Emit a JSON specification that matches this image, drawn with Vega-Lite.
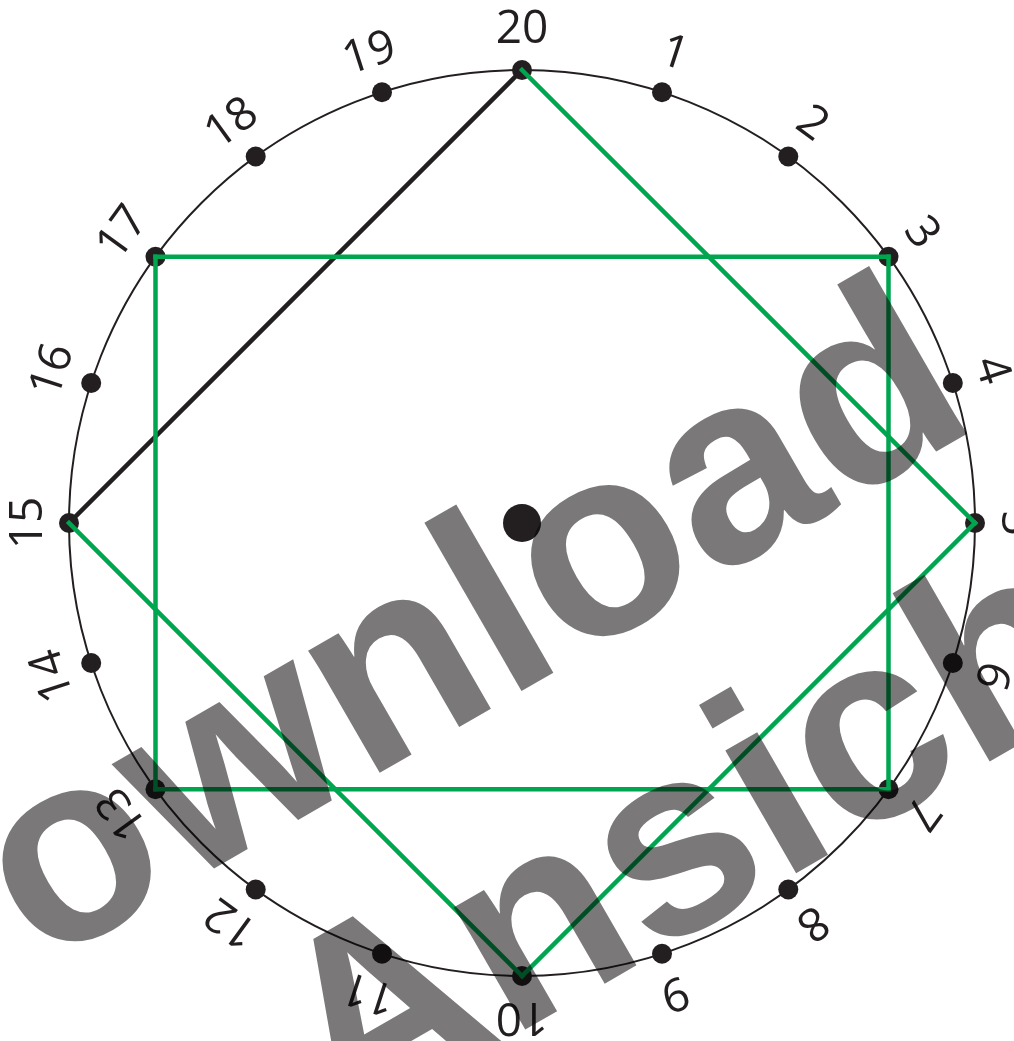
{
  "$schema": "https://vega.github.io/schema/vega-lite/v6.json",
  "width": 1014,
  "height": 1041,
  "autosize": {"type": "none"},
  "padding": 0,
  "background": "white",
  "config": {"view": {"stroke": null}},
  "datasets": {
    "ring": [{"x": 0, "y": 0}],
    "centre": [{"x": 0, "y": 0}],
    "pts": [
      {"n": 1, "x": 140.0, "y": 430.8},
      {"n": 2, "x": 266.3, "y": 366.5},
      {"n": 3, "x": 366.5, "y": 266.3},
      {"n": 4, "x": 430.8, "y": 140.0},
      {"n": 5, "x": 453, "y": 0},
      {"n": 6, "x": 430.8, "y": -140.0},
      {"n": 7, "x": 366.5, "y": -266.3},
      {"n": 8, "x": 266.3, "y": -366.5},
      {"n": 9, "x": 140.0, "y": -430.8},
      {"n": 10, "x": 0, "y": -453},
      {"n": 11, "x": -140.0, "y": -430.8},
      {"n": 12, "x": -266.3, "y": -366.5},
      {"n": 13, "x": -366.5, "y": -266.3},
      {"n": 14, "x": -430.8, "y": -140.0},
      {"n": 15, "x": -453, "y": 0},
      {"n": 16, "x": -430.8, "y": 140.0},
      {"n": 17, "x": -366.5, "y": 266.3},
      {"n": 18, "x": -266.3, "y": 366.5},
      {"n": 19, "x": -140.0, "y": 430.8},
      {"n": 20, "x": 0, "y": 453}
    ],
    "segs": [
      {"seg": "15-20", "col": "black", "x": -453, "y": 0, "x2": 0, "y2": 453},
      {"seg": "20-5", "col": "green", "x": 0, "y": 453, "x2": 453, "y2": 0},
      {"seg": "5-10", "col": "green", "x": 453, "y": 0, "x2": 0, "y2": -453},
      {"seg": "10-15", "col": "green", "x": 0, "y": -453, "x2": -453, "y2": 0},
      {"seg": "17-3", "col": "green", "x": -366.5, "y": 266.3, "x2": 366.5, "y2": 266.3},
      {"seg": "3-7", "col": "green", "x": 366.5, "y": 266.3, "x2": 366.5, "y2": -266.3},
      {"seg": "7-13", "col": "green", "x": 366.5, "y": -266.3, "x2": -366.5, "y2": -266.3},
      {"seg": "13-17", "col": "green", "x": -366.5, "y": -266.3, "x2": -366.5, "y2": 266.3}
    ],
    "labels": [
      {"label": "1", "x": 152.7, "y": 469.8, "angle": 18},
      {"label": "2", "x": 290.4, "y": 399.7, "angle": 36},
      {"label": "3", "x": 399.7, "y": 290.4, "angle": 54},
      {"label": "4", "x": 469.8, "y": 152.7, "angle": 72},
      {"label": "5", "x": 494, "y": 0, "angle": 90},
      {"label": "6", "x": 469.8, "y": -152.7, "angle": 108},
      {"label": "7", "x": 399.7, "y": -290.4, "angle": 126},
      {"label": "8", "x": 290.4, "y": -399.7, "angle": 144},
      {"label": "9", "x": 152.7, "y": -469.8, "angle": 162},
      {"label": "10", "x": 0, "y": -494, "angle": 180},
      {"label": "11", "x": -152.7, "y": -469.8, "angle": 198},
      {"label": "12", "x": -290.4, "y": -399.7, "angle": 216},
      {"label": "13", "x": -399.7, "y": -290.4, "angle": 234},
      {"label": "14", "x": -469.8, "y": -152.7, "angle": 252},
      {"label": "15", "x": -494, "y": 0, "angle": 270},
      {"label": "16", "x": -469.8, "y": 152.7, "angle": 288},
      {"label": "17", "x": -399.7, "y": 290.4, "angle": 306},
      {"label": "18", "x": -290.4, "y": 399.7, "angle": 324},
      {"label": "19", "x": -152.7, "y": 469.8, "angle": 342},
      {"label": "20", "x": 0, "y": 494, "angle": 0}
    ],
    "wm": [
      {"text": "Download", "x": -94, "y": -222, "angle": 330},
      {"text": "Ansicht", "x": 245, "y": -367, "angle": 330}
    ]
  },
  "encoding": {
    "x": {"field": "x", "type": "quantitative", "scale": {"domain": [-522, 492], "nice": false, "zero": false}, "axis": null},
    "y": {"field": "y", "type": "quantitative", "scale": {"domain": [-518, 523], "nice": false, "zero": false}, "axis": null}
  },
  "layer": [
    {
      "data": {"name": "ring"},
      "mark": {"type": "point", "shape": "circle", "filled": false, "size": 820836, "stroke": "#231f20", "strokeWidth": 2, "opacity": 1}
    },
    {
      "data": {"name": "pts"},
      "mark": {"type": "point", "shape": "circle", "filled": true, "size": 400, "color": "#231f20", "opacity": 1}
    },
    {
      "data": {"name": "segs"},
      "mark": {"type": "rule", "strokeWidth": 4.5, "strokeCap": "square"},
      "encoding": {
        "x2": {"field": "x2"},
        "y2": {"field": "y2"},
        "color": {"field": "col", "type": "nominal", "scale": {"domain": ["black", "green"], "range": ["#231f20", "#00a54f"]}, "legend": null},
        "order": {"field": "col", "sort": "ascending"}
      }
    },
    {
      "data": {"name": "centre"},
      "mark": {"type": "point", "shape": "circle", "filled": true, "size": 1444, "color": "#231f20", "opacity": 1}
    },
    {
      "data": {"name": "labels"},
      "mark": {"type": "text", "font": "Open Sans", "fontSize": 46, "fontWeight": 400, "color": "#231f20", "align": "center", "baseline": "middle"},
      "encoding": {
        "text": {"field": "label", "type": "nominal"},
        "angle": {"field": "angle", "type": "quantitative", "scale": null}
      }
    },
    {
      "data": {"name": "wm"},
      "mark": {"type": "text", "font": "Liberation Sans", "fontSize": 268, "fontWeight": "bold", "color": "#7a7878", "align": "center", "baseline": "alphabetic", "blend": "multiply"},
      "encoding": {
        "text": {"field": "text", "type": "nominal"},
        "angle": {"field": "angle", "type": "quantitative", "scale": null}
      }
    }
  ]
}
